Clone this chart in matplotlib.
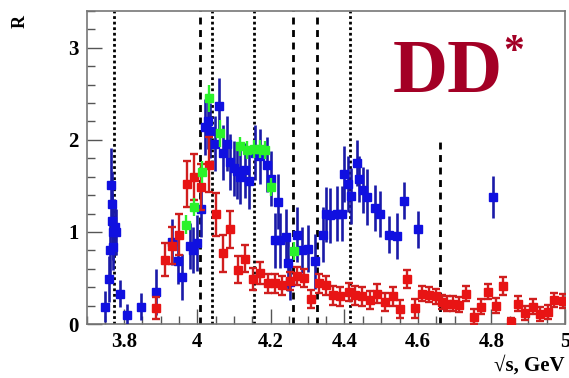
import matplotlib
matplotlib.use("Agg")
import matplotlib.pyplot as plt
from matplotlib.ticker import MultipleLocator

# ---- data ----
blue_x = [3.750, 3.761, 3.763, 3.765, 3.767, 3.769, 3.770, 3.772, 3.775, 3.780,
          3.789, 3.809, 3.848, 3.889, 3.930, 3.947, 3.959, 3.980, 3.989, 4.000,
          4.009, 4.020, 4.028, 4.035, 4.047, 4.060, 4.071, 4.081, 4.090, 4.099,
          4.108, 4.117, 4.130, 4.140, 4.158, 4.171, 4.190, 4.201, 4.210, 4.219,
          4.226, 4.240, 4.248, 4.253, 4.271, 4.285, 4.300, 4.321, 4.341, 4.349,
          4.362, 4.380, 4.394, 4.398, 4.410, 4.419, 4.433, 4.439, 4.451, 4.462,
          4.482, 4.498, 4.521, 4.542, 4.562, 4.600, 4.803]
blue_y = [0.19, 0.49, 0.80, 1.51, 1.30, 1.12, 1.00, 0.84, 1.05, 1.00,
          0.33, 0.10, 0.19, 0.35, 0.89, 0.68, 0.51, 0.85, 0.80, 0.88,
          1.25, 2.14, 2.20, 2.10, 1.96, 2.37, 1.86, 1.96, 1.76, 1.69,
          1.66, 1.60, 1.67, 1.55, 1.86, 1.82, 1.73, 1.58, 0.91, 1.33,
          0.91, 0.95, 0.66, 0.46, 0.97, 0.80, 0.82, 0.68, 0.97, 1.19,
          1.18, 1.20, 1.20, 1.63, 1.52, 1.39, 1.75, 1.57, 1.46, 1.38,
          1.26, 1.20, 0.97, 0.96, 1.34, 1.03, 1.38]
blue_e = [0.17, 0.25, 0.30, 0.40, 0.35, 0.30, 0.30, 0.25, 0.30, 0.25,
          0.15, 0.12, 0.15, 0.25, 0.25, 0.25, 0.25, 0.25, 0.25, 0.30,
          0.30, 0.30, 0.30, 0.30, 0.30, 0.30, 0.30, 0.30, 0.30, 0.30,
          0.30, 0.30, 0.30, 0.30, 0.30, 0.30, 0.30, 0.30, 0.30, 0.30,
          0.30, 0.30, 0.30, 0.20, 0.30, 0.25, 0.25, 0.30, 0.30, 0.30,
          0.30, 0.30, 0.30, 0.30, 0.30, 0.30, 0.25, 0.25, 0.25, 0.30,
          0.25, 0.25, 0.20, 0.25, 0.20, 0.20, 0.23]

red_x = [3.889, 3.911, 3.932, 3.950, 3.971, 3.991, 4.011, 4.031, 4.051, 4.070,
         4.090, 4.112, 4.131, 4.151, 4.171, 4.191, 4.212, 4.230, 4.253, 4.271,
         4.289, 4.310, 4.332, 4.351, 4.370, 4.389, 4.412, 4.430, 4.449, 4.469,
         4.489, 4.510, 4.532, 4.551, 4.571, 4.591, 4.612, 4.630, 4.648, 4.666,
         4.680, 4.696, 4.712, 4.730, 4.753, 4.771, 4.791, 4.812, 4.832, 4.853,
         4.871, 4.891, 4.912, 4.932, 4.953, 4.971, 4.994]
red_y = [0.17, 0.70, 0.85, 0.97, 1.52, 1.60, 1.49, 1.73, 1.19, 0.77,
         1.03, 0.59, 0.71, 0.49, 0.55, 0.44, 0.44, 0.42, 0.47, 0.52,
         0.50, 0.27, 0.44, 0.42, 0.31, 0.30, 0.35, 0.31, 0.30, 0.26,
         0.33, 0.24, 0.30, 0.16, 0.49, 0.17, 0.33, 0.32, 0.30, 0.24,
         0.22, 0.22, 0.21, 0.33, 0.08, 0.19, 0.35, 0.20, 0.41, 0.02,
         0.22, 0.12, 0.19, 0.11, 0.13, 0.26, 0.25]
red_e = [0.12, 0.18, 0.20, 0.22, 0.25, 0.25, 0.25, 0.30, 0.23, 0.20,
         0.20, 0.15, 0.15, 0.12, 0.12, 0.10, 0.10, 0.10, 0.10, 0.10,
         0.10, 0.10, 0.10, 0.10, 0.10, 0.10, 0.10, 0.10, 0.10, 0.10,
         0.10, 0.10, 0.10, 0.10, 0.10, 0.10, 0.08, 0.08, 0.08, 0.08,
         0.08, 0.08, 0.08, 0.08, 0.08, 0.08, 0.08, 0.08, 0.10, 0.05,
         0.08, 0.08, 0.08, 0.08, 0.08, 0.08, 0.08]

green_x = [3.970, 3.991, 4.013, 4.031, 4.061, 4.117, 4.135, 4.153, 4.171, 4.185, 4.200, 4.262]
green_y = [1.08, 1.27, 1.65, 2.45, 2.07, 1.93, 1.89, 1.90, 1.90, 1.89, 1.49, 0.79]
green_e = [0.10, 0.10, 0.12, 0.15, 0.15, 0.10, 0.10, 0.10, 0.10, 0.10, 0.10, 0.10]

dotted_lines = [3.773, 4.040, 4.153, 4.415]
dashed_lines = [4.008, 4.260, 4.325]
short_dashed = [4.660]
short_dashed_top = 2.0

x_ticks = [3.8, 4.0, 4.2, 4.4, 4.6, 4.8, 5.0]
x_ticklabels = ["3.8", "4", "4.2", "4.4", "4.6", "4.8", "5"]
y_ticks = [0, 1, 2, 3]
y_ticklabels = ["0", "1", "2", "3"]

# ---- figure ----
serif = ["Liberation Serif", "DejaVu Serif"]
fig = plt.figure(figsize=(5.69, 3.78), dpi=100)
ax = fig.add_axes([87 / 569, 54 / 378, 478 / 569, 313 / 378])
ax.set_xlim(3.7, 5.0)
ax.set_ylim(0, 3.4)

for xv in dotted_lines:
    ax.axvline(xv, color="black", lw=2.0, ls=(0, (1, 1)), zorder=1)
for xv in dashed_lines:
    ax.axvline(xv, color="black", lw=2.0, ls=(0, (2.5, 2)), zorder=1)
for xv in short_dashed:
    ax.plot([xv, xv], [0, short_dashed_top], color="black", lw=2.0,
            ls=(0, (2.5, 2)), zorder=1)

ax.errorbar(blue_x, blue_y, yerr=blue_e, fmt="s", color="#1010e0", ms=6,
            ecolor="#1a1aa8", elinewidth=1.9, capsize=0, zorder=3)
ax.errorbar(red_x, red_y, yerr=red_e, fmt="s", color="#e81414", ms=6,
            ecolor="#d01e1e", elinewidth=1.7, capsize=3, capthick=1.7, zorder=4)
ax.errorbar(green_x, green_y, yerr=green_e, fmt="s", color="#2af22a", ms=6,
            ecolor="#2af22a", elinewidth=1.7, capsize=0, zorder=5)

ax.set_xticks(x_ticks)
ax.set_xticklabels(x_ticklabels)
ax.set_yticks(y_ticks)
ax.set_yticklabels(y_ticklabels)
ax.xaxis.set_minor_locator(MultipleLocator(0.05))
ax.yaxis.set_minor_locator(MultipleLocator(0.2))
ax.tick_params(axis="both", which="major", direction="in", length=11,
               width=1.0, color="#555555", labelsize=15, pad=6)
ax.tick_params(axis="both", which="minor", direction="in", length=6,
               width=1.0, color="#555555")
ax.tick_params(top=False, right=False, which="both")
for lab in ax.get_xticklabels() + ax.get_yticklabels():
    lab.set_family(serif)
    lab.set_fontweight("bold")
for sp in ax.spines.values():
    sp.set_color("#777777")
    sp.set_linewidth(1.2)

fig.text(20 / 569, 1 - 22 / 378, "R", rotation=90, ha="center", va="center",
         family=serif, fontweight="bold", fontsize=13)
fig.text(565 / 569, 1 - 366 / 378, "\u221as, GeV", ha="right", va="center",
         family=serif, fontweight="bold", fontsize=15)
ax.text(0.64, 0.80, "DD", transform=ax.transAxes, ha="left", va="center",
        family=serif, fontweight="bold", fontsize=55, color="#a30025")
ax.text(0.87, 0.865, "*", transform=ax.transAxes, ha="left", va="center",
        family=serif, fontweight="bold", fontsize=30, color="#a30025")

fig.savefig("out.png", dpi=100)
